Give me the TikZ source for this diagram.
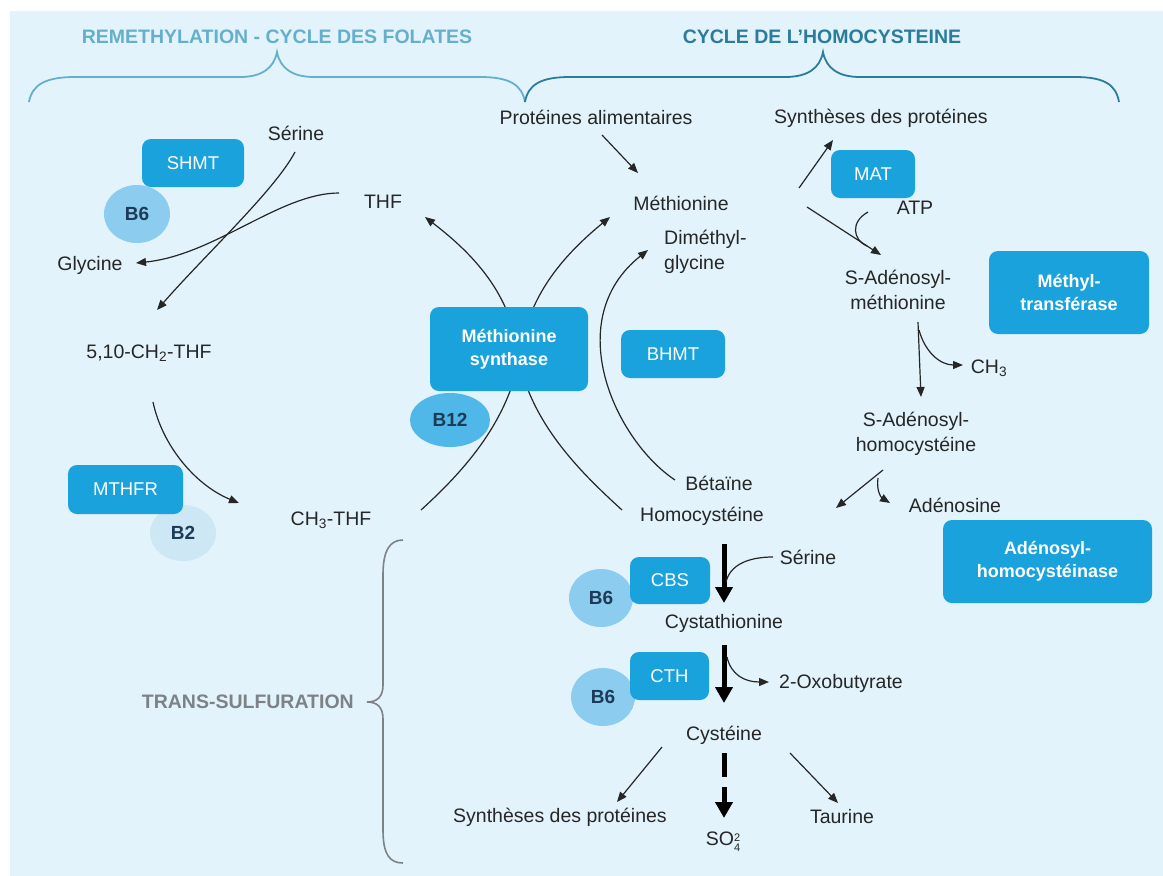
\documentclass[tikz,border=0pt]{standalone}
\usepackage{fontspec}
\setmainfont{Liberation Sans}
\usetikzlibrary{arrows.meta,shapes.geometric}
\definecolor{bg}{HTML}{E2F3FB}
\definecolor{boxblue}{HTML}{1AA2DC}
\definecolor{vitA}{HTML}{8CCCEE}
\definecolor{vitB}{HTML}{50B8E9}
\definecolor{vitC}{HTML}{CDE7F5}
\definecolor{navy}{HTML}{1C3B58}
\definecolor{txt}{HTML}{262626}
\definecolor{hdrA}{HTML}{66AFCB}
\definecolor{hdrB}{HTML}{2B7C9C}
\definecolor{grayt}{HTML}{7D8286}
\tikzset{
  lbl/.style={text=txt, inner sep=0pt, align=center, font=\fontsize{19.5}{25}\selectfont},
  hdr/.style={inner sep=0pt, font=\bfseries\fontsize{19.5}{22}\selectfont},
  ebox/.style={fill=boxblue, rounded corners=9pt, text=white, align=center, inner sep=0pt,
    font=\fontsize{18.5}{23}\selectfont},
  eboxb/.style={ebox, font=\bfseries\fontsize{18}{23}\selectfont},
  vit/.style={ellipse, inner sep=0pt, text=navy, font=\bfseries\fontsize{19}{23}\selectfont},
  conn/.style={draw=txt, line width=1.2pt},
  arr/.style={conn, -{Triangle[width=8pt,length=10pt]}},
  thickarr/.style={draw=black, line width=5pt, -{Triangle[width=17pt,length=16pt]}},
  thickline/.style={draw=black, line width=5pt},
}
\begin{document}
\begin{tikzpicture}[x=1pt,y=-1pt]
\useasboundingbox (0,0) rectangle (1163,876);
\fill[bg] (10,11) rectangle (1163,876);

% headers
\node[hdr, text=hdrA] (hA) at (277,37) {REMETHYLATION - CYCLE DES FOLATES};
\node[hdr, text=hdrB] (hB) at (822,37) {CYCLE DE L’HOMOCYSTEINE};

% braces
\draw[hdrA, line width=1.8pt] (29,102) .. controls (32,85) and (45,77) .. (75,77) -- (240,77)
  .. controls (262,77) and (274,68) .. (277,52) .. controls (280,68) and (292,77) .. (314,77)
  -- (480,77) .. controls (510,77) and (522,85) .. (525,102);
\draw[hdrB, line width=1.8pt] (525,102) .. controls (528,85) and (540,77) .. (570,77) -- (785,77)
  .. controls (808,77) and (820,68) .. (823,52) .. controls (826,68) and (838,77) .. (860,77)
  -- (1075,77) .. controls (1105,77) and (1116,85) .. (1119,102);
\draw[grayt, line width=1.6pt] (403,540) .. controls (390,540) and (383,550) .. (383,575) -- (383,685)
  .. controls (383,697) and (377,702) .. (367,702) .. controls (377,702) and (383,707) .. (383,719)
  -- (383,830) .. controls (383,855) and (390,863) .. (403,863);
\node[hdr, text=grayt, anchor=east] (ts) at (354,702) {TRANS-SULFURATION};

% text labels
\node[lbl] (ser1) at (296,133) {Sérine};
\node[lbl] (gly) at (90,265) {Glycine};
\node[lbl] (thf) at (383,202) {THF};
\node[lbl] (mthf) at (149,353) {5,10-CH\textsubscript{2}-THF};
\node[lbl] (ch3thf) at (331,520) {CH\textsubscript{3}-THF};
\node[lbl] (prot) at (596,117) {Protéines alimentaires};
\node[lbl] (met) at (681,203) {Méthionine};
\node[lbl, anchor=west, align=left] (dmg) at (664,252) {Diméthyl-\\glycine};
\node[lbl] (bet) at (719,483) {Bétaïne};
\node[lbl] (hcy) at (702,516) {Homocystéine};
\node[lbl] (synt1) at (881,118) {Synthèses des protéines};
\node[lbl] (atp) at (915,208) {ATP};
\node[lbl] (sam) at (898,290) {S-Adénosyl-\\méthionine};
\node[lbl] (ch3) at (989,368) {CH\textsubscript{3}};
\node[lbl] (sah) at (916,434) {S-Adénosyl-\\homocystéine};
\node[lbl] (ado) at (955,505) {Adénosine};
\node[lbl] (ser2) at (808,557) {Sérine};
\node[lbl] (cysta) at (724,623) {Cystathionine};
\node[lbl] (oxo) at (841,683) {2-Oxobutyrate};
\node[lbl] (cys) at (724,735) {Cystéine};
\node[lbl] (synt2) at (560,817) {Synthèses des protéines};
\node[lbl] (so4) at (723,842) {SO\raisebox{-6pt}{\fontsize{11}{9}\selectfont\shortstack{2\\4}}};
\node[lbl] (tau) at (842,817) {Taurine};

% named end points of connectors
\coordinate (aP1) at (602,135); \coordinate (aP2) at (638,173);
\coordinate (aS1) at (799,188); \coordinate (aS2) at (833,140);
\coordinate (aM1) at (807,207); \coordinate (aM2) at (881,255);
\coordinate (atp1) at (868,212); \coordinate (atp2) at (867,246);
\coordinate (v1) at (918,322); \coordinate (v2) at (921,397);
\coordinate (c1) at (919,330); \coordinate (c2) at (963,365);
\coordinate (h1) at (883,470); \coordinate (h2) at (836,508);
\coordinate (ad1) at (878,478); \coordinate (ad2) at (890,503);
\coordinate (b1) at (675,480); \coordinate (b2) at (648,250);
\coordinate (hc1) at (622,510); \coordinate (hcm) at (517,350); \coordinate (hc2) at (425,217);
\coordinate (ct1) at (421,510); \coordinate (ctm) at (521,350); \coordinate (ct2) at (610,217);
\coordinate (s1) at (295,152); \coordinate (s2) at (157,310);
\coordinate (g1) at (339,193); \coordinate (g2) at (136,263);
\coordinate (m1) at (153,402); \coordinate (m2) at (239,503);
\coordinate (k1) at (724,544); \coordinate (k2) at (724,603);
\coordinate (sr1) at (773,557); \coordinate (sr2) at (726,582);
\coordinate (k3) at (724,645); \coordinate (k4) at (724,703);
\coordinate (o1) at (727,657); \coordinate (o2) at (769,682);
\coordinate (k5) at (724,753); \coordinate (k6) at (724,777);
\coordinate (k7) at (724,787); \coordinate (k8) at (724,818);
\coordinate (y1) at (662,747); \coordinate (y2) at (617,802);
\coordinate (t1) at (790,753); \coordinate (t2) at (838,803);

% connectors
\draw[arr] (aP1) -- (aP2);
\draw[arr] (aS1) -- (aS2);
\draw[arr] (aM1) -- (aM2);
\draw[conn] (atp1) .. controls (850,222) and (853,240) .. (atp2);
\draw[arr] (v1) -- (v2);
\draw[arr] (c1) .. controls (925,352) and (940,365) .. (c2);
\draw[arr] (h1) -- (h2);
\draw[arr] (ad1) .. controls (876,492) and (882,498) .. (ad2);
\draw[arr] (b1) .. controls (615,440) and (560,320) .. (b2);
\draw[arr] (hc1) .. controls (578,470) and (528,420) .. (hcm) .. controls (510,290) and (468,250) .. (hc2);
\draw[arr] (ct1) .. controls (465,470) and (510,420) .. (ctm) .. controls (530,290) and (570,250) .. (ct2);
\draw[arr] (s1) .. controls (275,190) and (205,255) .. (s2);
\draw[arr] (g1) .. controls (280,193) and (215,255) .. (g2);
\draw[arr] (m1) .. controls (162,445) and (195,485) .. (m2);
\draw[thickarr] (k1) -- (k2);
\draw[conn] (sr1) .. controls (748,557) and (730,565) .. (sr2);
\draw[thickarr] (k3) -- (k4);
\draw[arr] (o1) .. controls (731,675) and (745,682) .. (o2);
\draw[thickline] (k5) -- (k6);
\draw[thickarr] (k7) -- (k8);
\draw[arr] (y1) -- (y2);
\draw[arr] (t1) -- (t2);

% vitamins
\node[vit, fill=vitA, minimum width=66pt, minimum height=58pt] (b6a) at (137,214) {B6};
\node[vit, fill=vitC, minimum width=66pt, minimum height=56pt] (b2) at (183,533) {B2};
\node[vit, fill=vitB, minimum width=80pt, minimum height=54pt] (b12) at (450,420) {B12};
\node[vit, fill=vitA, minimum width=64pt, minimum height=58pt] (b6b) at (601,598) {B6};
\node[vit, fill=vitA, minimum width=64pt, minimum height=58pt] (b6c) at (603,697) {B6};

% enzymes
\node[ebox, minimum width=102pt, minimum height=48pt] (shmt) at (193,163) {SHMT};
\node[ebox, minimum width=115pt, minimum height=49pt] (mthfr) at (125.5,489.5) {MTHFR};
\node[eboxb, minimum width=158pt, minimum height=84pt] (ms) at (509,349) {Méthionine\\synthase};
\node[ebox, minimum width=104pt, minimum height=48pt] (bhmt) at (673,354) {BHMT};
\node[ebox, minimum width=84pt, minimum height=48pt] (mat) at (873,174) {MAT};
\node[eboxb, minimum width=160pt, minimum height=83pt] (mt) at (1069,292.5) {Méthyl-\\transférase};
\node[eboxb, minimum width=209pt, minimum height=83pt] (ahc) at (1047.5,561.5) {Adénosyl-\\homocystéinase};
\node[ebox, minimum width=80pt, minimum height=47pt] (cbs) at (670,580.5) {CBS};
\node[ebox, minimum width=79pt, minimum height=48pt] (cth) at (669.5,676) {CTH};
\end{tikzpicture}
\end{document}
